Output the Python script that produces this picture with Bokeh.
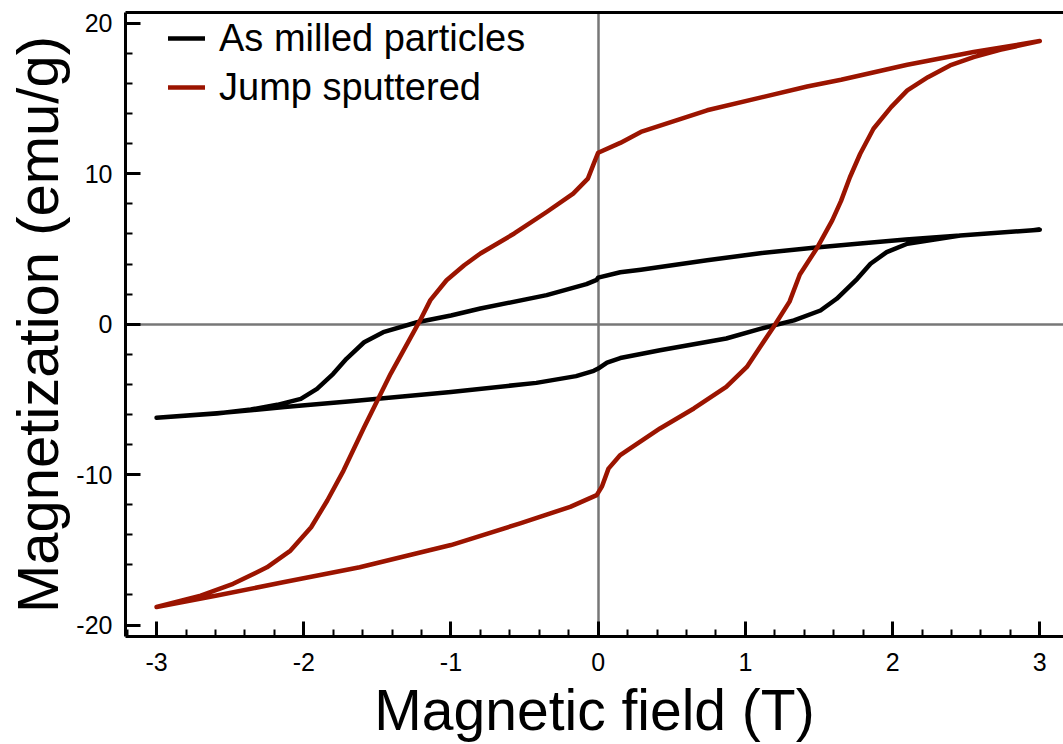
from bokeh.plotting import figure
from bokeh.models import (LinearAxis, FixedTicker, SingleIntervalTicker, Legend,
                          LegendItem, Range1d, PrintfTickFormatter)
from bokeh.embed import file_html
from bokeh.resources import INLINE

# ---- data ----
# As milled particles: ascending branch (-3 -> +3)
milled_up_x = [-3.00, -2.59, -2.36, -2.13, -1.68, -1.00, -0.42, -0.15, -0.03, 0.00, 0.06,
               0.15, 0.42, 0.87, 1.10, 1.33, 1.51, 1.62, 1.69, 1.76, 1.85, 1.96, 2.10,
               2.46, 3.00]
milled_up_m = [-6.22, -5.92, -5.72, -5.50, -5.12, -4.50, -3.90, -3.45, -3.10, -2.95, -2.55,
               -2.25, -1.73, -0.95, -0.31, 0.25, 0.91, 1.69, 2.35, 3.02, 4.02, 4.79, 5.35,
               5.90, 6.28]
# As milled particles: descending branch (+3 -> -3)
milled_down_x = [3.00, 2.09, 1.78, 1.48, 1.10, 0.74, 0.29, 0.15, 0.00, -0.01, -0.08, -0.35,
                 -0.80, -1.00, -1.23, -1.46, -1.59, -1.71, -1.80, -1.91, -2.02, -2.18,
                 -2.36, -2.59, -3.00]
milled_down_m = [6.28, 5.63, 5.36, 5.10, 4.72, 4.25, 3.62, 3.45, 3.10, 2.95, 2.66, 1.93,
                 1.04, 0.58, 0.13, -0.53, -1.20, -2.30, -3.30, -4.30, -4.96, -5.36,
                 -5.67, -5.94, -6.22]

# Jump sputtered: ascending branch (-3 -> +3)
jump_up_x = [-3.00, -2.59, -2.14, -1.62, -1.00, -0.53, -0.19, -0.01, 0.025, 0.07, 0.15,
             0.20, 0.42, 0.65, 0.87, 1.01, 1.10, 1.19, 1.30, 1.37, 1.49, 1.59, 1.65,
             1.71, 1.78, 1.87, 1.99, 2.10, 2.24, 2.39, 2.55, 2.73, 3.00]
jump_up_m = [-18.80, -18.04, -17.15, -16.16, -14.68, -13.24, -12.14, -11.36, -10.80, -9.60,
             -8.70, -8.37, -6.93, -5.60, -4.17, -2.84, -1.51, -0.20, 1.50, 3.30, 5.12,
             6.90, 8.20, 9.77, 11.33, 12.99, 14.43, 15.54, 16.42, 17.20, 17.75, 18.24,
             18.82]
# Jump sputtered: descending branch (+3 -> -3)
jump_down_x = [3.00, 2.55, 2.10, 1.65, 1.42, 0.74, 0.29, 0.15, 0.00, -0.03, -0.07, -0.17,
               -0.35, -0.57, -0.80, -0.91, -1.03, -1.14, -1.21, -1.41, -1.59, -1.73,
               -1.84, -1.95, -2.09, -2.25, -2.48, -2.70, -3.00]
jump_down_m = [18.82, 18.09, 17.25, 16.25, 15.80, 14.22, 12.78, 12.05, 11.40, 10.68, 9.68,
               8.68, 7.46, 6.03, 4.70, 3.92, 2.92, 1.60, 0.25, -3.30, -6.85, -9.73,
               -11.72, -13.50, -15.05, -16.16, -17.26, -18.04, -18.80]

series_labels = ["As milled particles", "Jump sputtered"]
series_colors = ["#000000", "#9b1400"]

x_label = "Magnetic field (T)"
y_label = "Magnetization (emu/g)"

FONT = "Liberation Sans"

p = figure(width=1063, height=744, output_backend="svg", toolbar_location=None,
           x_range=Range1d(-3.211, 3.161), y_range=Range1d(-20.76, 20.72),
           min_border_left=125, min_border_right=0, min_border_top=12,
           min_border_bottom=108)
p.outline_line_color = None
p.background_fill_color = "white"
p.border_fill_color = "white"

# zero lines as grids
p.xgrid.ticker = FixedTicker(ticks=[0])
p.ygrid.ticker = FixedTicker(ticks=[0])
for g in (p.xgrid, p.ygrid):
    g.grid_line_color = "#777777"
    g.grid_line_width = 2.5

# axes
p.xaxis.ticker = SingleIntervalTicker(interval=1, num_minor_ticks=5)
p.yaxis.ticker = SingleIntervalTicker(interval=10, num_minor_ticks=5)
for ax in (p.xaxis, p.yaxis):
    ax.formatter = PrintfTickFormatter(format="%d")
    ax.axis_line_width = 3
    ax.axis_line_color = "black"
    ax.major_tick_in = 15
    ax.major_tick_out = 0
    ax.minor_tick_in = 7
    ax.minor_tick_out = 0
    ax.major_tick_line_width = 3
    ax.minor_tick_line_width = 2
    ax.major_tick_line_color = "black"
    ax.minor_tick_line_color = "black"
    ax.major_label_text_font = FONT
    ax.major_label_text_font_size = "25px"
    ax.major_label_text_color = "black"
    ax.axis_label_text_font = FONT
    ax.axis_label_text_font_style = "normal"
    ax.axis_label_text_color = "black"

p.xaxis.axis_label = x_label
p.yaxis.axis_label = y_label
p.xaxis.axis_label_text_font_size = "57px"
p.yaxis.axis_label_text_font_size = "58px"
p.xaxis.major_label_standoff = 16
p.yaxis.major_label_standoff = 13
p.xaxis.axis_label_standoff = 4
p.yaxis.axis_label_standoff = 3

top = LinearAxis(ticker=FixedTicker(ticks=[]), axis_line_width=3, axis_line_color="black",
                 major_label_text_font_size="0px", major_tick_in=0, major_tick_out=0,
                 minor_tick_in=0, minor_tick_out=0)
p.add_layout(top, "above")

r1 = p.line(milled_up_x + milled_down_x, milled_up_m + milled_down_m,
            line_color=series_colors[0], line_width=4.5,
            line_join="round", line_cap="round")
r2 = p.line(jump_up_x + jump_down_x, jump_up_m + jump_down_m,
            line_color=series_colors[1], line_width=4.5,
            line_join="round", line_cap="round")

legend = Legend(items=[LegendItem(label=series_labels[0], renderers=[r1]),
                       LegendItem(label=series_labels[1], renderers=[r2])],
                location=(43, 527))
legend.label_text_font = FONT
legend.label_text_font_size = "38px"
legend.label_text_color = "black"
legend.glyph_width = 37
legend.glyph_height = 44
legend.label_height = 44
legend.label_standoff = 14
legend.spacing = 5
legend.padding = 0
legend.margin = 0
legend.border_line_color = None
legend.background_fill_alpha = 0
p.add_layout(legend)

open("out.html", "w").write(file_html(p, INLINE))
